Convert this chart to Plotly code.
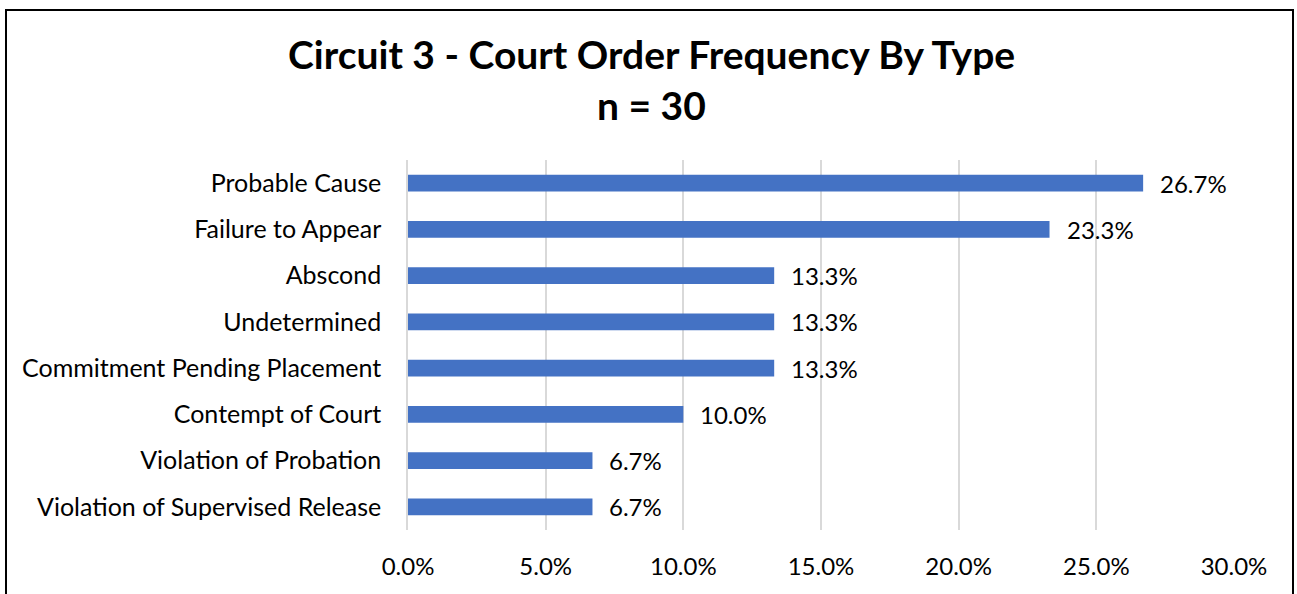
import plotly.graph_objects as go

categories = [
    "Probable Cause",
    "Failure to Appear",
    "Abscond",
    "Undetermined",
    "Commitment Pending Placement",
    "Contempt of Court",
    "Violation of Probation",
    "Violation of Supervised Release",
]
values = [26.7, 23.3, 13.3, 13.3, 13.3, 10.0, 6.7, 6.7]
x_ticks = [0, 5, 10, 15, 20, 25, 30]
x_tick_labels = [f"{t:.1f}%" for t in x_ticks]

title_line_1 = "Circuit 3 - Court Order Frequency By Type"
title_line_2 = "n = 30"

FONT = "Lato"
BAR_COLOR = "#4472C4"

W, H = 1297, 594
L, R, T, B = 408, 1234, 160, 530  # plot area in pixels

fig = go.Figure()
fig.add_trace(go.Bar(
    y=categories,
    x=values,
    orientation="h",
    marker=dict(color=BAR_COLOR, line=dict(width=0)),
    width=0.36,
    hoverinfo="skip",
))

def px_to_paper_x(px):
    return (px - L) / (R - L)

def px_to_paper_y(py):
    return (B - py) / (B - T)

# value labels next to each bar
annotations = []
for cat, v in zip(categories, values):
    annotations.append(dict(
        text=f"{v:.1f}%",
        x=v, y=cat,
        xref="x", yref="y",
        xanchor="left", yanchor="middle",
        xshift=15,
        showarrow=False,
        font=dict(family=FONT, size=24, color="#000000"),
    ))

for line, ypx in [(title_line_1, 54), (title_line_2, 105)]:
    annotations.append(dict(
        text=f"<b>{line}</b>",
        x=px_to_paper_x(651), y=px_to_paper_y(ypx),
        xref="paper", yref="paper",
        xanchor="center", yanchor="middle",
        showarrow=False,
        font=dict(family=FONT, size=39, color="#000000"),
    ))

fig.update_layout(
    width=W,
    height=H,
    margin=dict(l=L, r=W - R, t=T, b=H - B, pad=0),
    paper_bgcolor="white",
    plot_bgcolor="white",
    showlegend=False,
    font=dict(family=FONT, size=24, color="#000000"),
    xaxis=dict(
        range=[0, 30],
        tickvals=x_ticks,
        ticktext=x_tick_labels,
        showgrid=True,
        gridcolor="#D9D9D9",
        gridwidth=1.5,
        zeroline=False,
        showline=False,
        ticks="",
        ticklabelstandoff=20,
        tickfont=dict(family=FONT, size=24),
        fixedrange=True,
    ),
    yaxis=dict(
        categoryorder="array",
        categoryarray=categories[::-1],
        showgrid=False,
        zeroline=False,
        showline=True,
        linecolor="#D9D9D9",
        linewidth=1.5,
        ticks="",
        ticklabelstandoff=20,
        tickfont=dict(family=FONT, size=25),
        fixedrange=True,
    ),
    annotations=annotations,
    shapes=[
        dict(
            type="rect",
            xref="paper", yref="paper",
            x0=px_to_paper_x(6), x1=px_to_paper_x(1293),
            y0=px_to_paper_y(610), y1=px_to_paper_y(10),
            line=dict(color="#000000", width=2),
            fillcolor="rgba(0,0,0,0)",
            layer="below",
        )
    ],
)

fig.write_html(
    "out.html",
    config={"displayModeBar": False},
    post_script="document.body.style.margin='0';",
)
